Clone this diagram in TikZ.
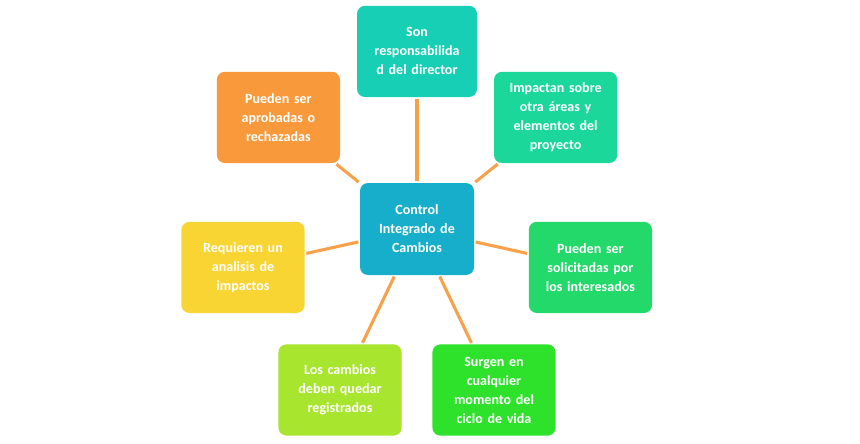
\documentclass[tikz,border=0pt]{standalone}
\usepackage{fontspec}
\setmainfont{Carlito}
\definecolor{cCenter}{HTML}{17AECB}
\definecolor{cTop}{HTML}{17CFB4}
\definecolor{cTopR}{HTML}{1CD79A}
\definecolor{cRight}{HTML}{22D96A}
\definecolor{cBotR}{HTML}{2EE22C}
\definecolor{cBotL}{HTML}{A8E52E}
\definecolor{cLeft}{HTML}{F9D533}
\definecolor{cTopL}{HTML}{F89A3C}
\definecolor{cLine}{HTML}{F7A24A}

\begin{document}
\begin{tikzpicture}[
       box/.style = {rectangle, rounded corners=0.2cm, fill=#1, text=white,
                     font=\fontsize{10}{13.5}\selectfont\bfseries,
                     align=center, text width=2.75cm,
                     minimum width=3.08cm, minimum height=2.28cm},
every edge/.style = {draw=cLine, line width=2.2pt, shorten <=1pt, shorten >=1pt}
                        ]
\useasboundingbox (0,0) rectangle (21.5,11.075);
\node (ctrl) at (10.425,5.35) [box=cCenter, minimum width=2.85cm, minimum height=2.3cm,
      text width=2.6cm] {Control\\ Integrado de\\ Cambios};
\node (resp) at (10.425,9.79) [box=cTop, minimum width=3cm] {Son\\ responsabilida\\ d del director};
\node (imp) at (13.89,8.14) [box=cTopR] {Impactan sobre\\ otra áreas y\\ elementos del\\ proyecto};
\node (sol) at (14.76,4.39) [box=cRight] {Pueden ser\\ solicitadas por\\ los interesados};
\node (surg) at (12.35,1.325) [box=cBotR] {Surgen en\\ cualquier\\ momento del\\ ciclo de vida};
\node (reg) at (8.5,1.325) [box=cBotL] {Los cambios\\ deben quedar\\ registrados};
\node (ana) at (6.075,4.39) [box=cLeft] {Requieren un\\ analisis de\\ impactos};
\node (apr) at (6.96,8.14) [box=cTopL] {Pueden ser\\ aprobadas o\\ rechazadas};

\path   (ctrl) edge (resp)
        (ctrl) edge (imp)
        (ctrl) edge (sol)
        (ctrl) edge (surg)
        (ctrl) edge (reg)
        (ctrl) edge (ana)
        (ctrl) edge (apr);
\end{tikzpicture}
\end{document}
